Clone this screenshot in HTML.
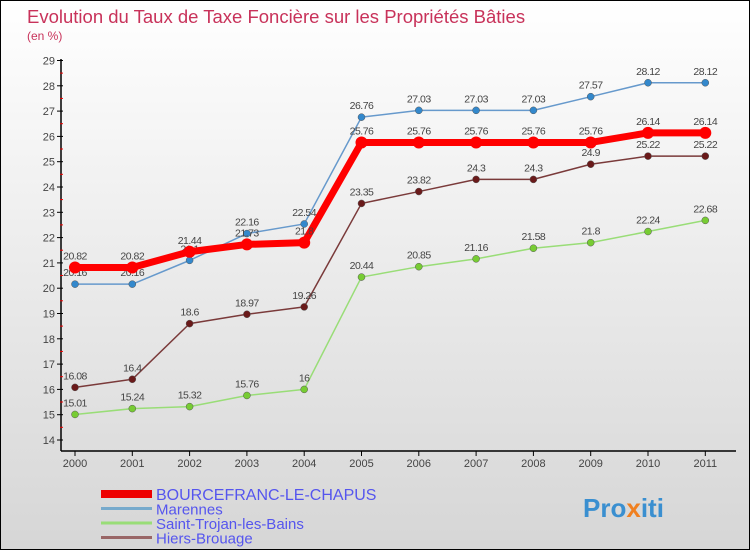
<!DOCTYPE html>
<html><head><meta charset="utf-8"><style>
body{margin:0}
#c{width:748px;height:548px;border:1px solid #000;background:linear-gradient(#ffffff,#d6d6d6);position:relative;font-family:"Liberation Sans",sans-serif;overflow:hidden}
</style></head><body>
<div id="c">
<svg id="s" width="748" height="548" xmlns="http://www.w3.org/2000/svg">
<text x="26" y="22" font-size="18.5" fill="#c8325a">Evolution du Taux de Taxe Foncière sur les Propriétés Bâties</text>
<text x="26" y="39" font-size="12" fill="#c8325a">(en %)</text>
<g id="axes"></g><g id="series"></g><g id="legend"></g>
<text x="582" y="516" font-size="26" font-weight="bold" fill="#3a8fd0">Pro<tspan fill="#f08020">x</tspan>iti</text>
</svg></div>
<script>
const years=["2000","2001","2002","2003","2004","2005","2006","2007","2008","2009","2010","2011"];
const yTicks=[14,15,16,17,18,19,20,21,22,23,24,25,26,27,28,29];
const bourcefranc=[20.82,20.82,21.44,21.73,21.8,25.76,25.76,25.76,25.76,25.76,26.14,26.14];
const marennes=[20.16,20.16,21.1,22.16,22.54,26.76,27.03,27.03,27.03,27.57,28.12,28.12];
const saintTrojan=[15.01,15.24,15.32,15.76,16,20.44,20.85,21.16,21.58,21.8,22.24,22.68];
const hiers=[16.08,16.4,18.6,18.97,19.26,23.35,23.82,24.3,24.3,24.9,25.22,25.22];
const NS="http://www.w3.org/2000/svg";
const xS=i=>74+i*57.3, yS=v=>439-(v-14)*25.3;
function mk(t,a,p){const e=document.createElementNS(NS,t);for(const k in a)e.setAttribute(k,a[k]);p.appendChild(e);return e;}
const ax=document.getElementById('axes');
let l=mk('line',{x1:60,y1:58,x2:60,y2:450,stroke:'#000','stroke-width':1.5},ax);

l=mk('line',{x1:60,y1:450,x2:735,y2:450,stroke:'#000','stroke-width':1.5},ax);

yTicks.forEach(v=>{const y=yS(v);mk('line',{x1:56,y1:y,x2:62,y2:y,stroke:'#000'},ax);
 if(v<29)mk('line',{x1:59,y1:y-12.7,x2:62,y2:y-12.7,stroke:'#e00'},ax);
 const t=mk('text',{x:54,y:y+4,'font-size':11,fill:'#444','text-anchor':'end'},ax);t.textContent=v;
 });
years.forEach((yr,i)=>{const x=xS(i);mk('line',{x1:x,y1:450,x2:x,y2:455,stroke:'#000'},ax);
 const t=mk('text',{x:x,y:466,'font-size':11,fill:'#444','text-anchor':'middle'},ax);t.textContent=yr;
 });
const sg=document.getElementById('series');
function series(d,name,col,dot,w,r){const g=mk('g',{},sg);
 
 mk('polyline',{points:d.map((v,i)=>xS(i)+','+yS(v)).join(' '),fill:'none',stroke:col,'stroke-width':w,'stroke-linejoin':'round'},g);
 d.forEach((v,i)=>{const c=mk('circle',{cx:xS(i),cy:yS(v),r:r,fill:dot,stroke:w>3?dot:'#555','stroke-width':w>3?0:0.5},g);
  
  const t=mk('text',{x:xS(i),y:yS(v)-8,'font-size':10.5,fill:'#444','text-anchor':'middle','letter-spacing':'-0.5'},g);t.textContent=v;
  });}
series(saintTrojan,'saint-trojan','#99dd77','#77cc33',1.5,3.5);
series(hiers,'hiers-brouage','#7a3a3a','#6a1a1a',1.5,3.5);
series(marennes,'marennes','#6699cc','#3388cc',1.5,3.5);
series(bourcefranc,'bourcefranc','#ff0000','#ff0000',7,6);
const lg=document.getElementById('legend');
[["BOURCEFRANC-LE-CHAPUS","#ee0000",8],["Marennes","#77aacc",3],["Saint-Trojan-les-Bains","#99dd77",3],["Hiers-Brouage","#996666",3]].forEach((e,i)=>{
 const y=493+i*14.5;const g=mk('g',{},lg);
 
 mk('line',{x1:100,y1:y,x2:151,y2:y,stroke:e[1],'stroke-width':e[2]},g);
 const t=mk('text',{x:155,y:y+6,'font-size':i==0?16:15,fill:'#5555ee'},g);t.textContent=e[0];});
</script>
</body></html>
